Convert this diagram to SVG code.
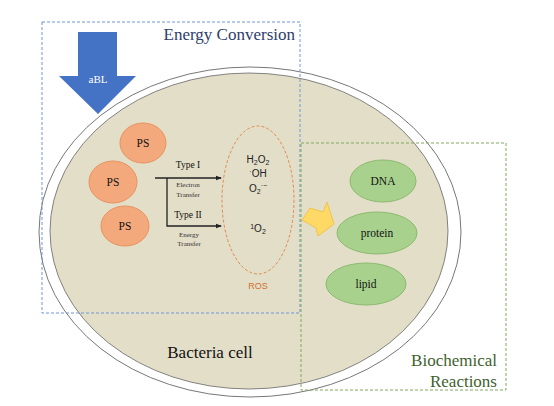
<svg xmlns="http://www.w3.org/2000/svg" width="554" height="406" viewBox="0 0 554 406">
<style>
.serif{font-family:"Liberation Serif","Tinos","Times New Roman","DejaVu Serif",serif}
.sans{font-family:"Liberation Sans",Arial,sans-serif}
.ps{fill:#F4A97D;stroke:#E6935F;stroke-width:1}
.bio{fill:#A9D18E;stroke:#8CBA6E;stroke-width:1}
.lbl{font-size:11.5px;fill:#111;text-anchor:middle}
.small{font-size:7px;fill:#333;text-anchor:middle}
.type{font-size:9.5px;fill:#111;text-anchor:middle}
.chem{font-size:10px;fill:#222;text-anchor:middle}
.line{stroke:#222;stroke-width:1.3;fill:none}
</style>
<defs>
<marker id="ah" markerWidth="6" markerHeight="6" refX="5" refY="3" orient="auto" markerUnits="userSpaceOnUse">
<path d="M0,0.8 L6,3 L0,5.2 z" fill="#222"/>
</marker>
</defs>
<rect width="554" height="406" fill="#fff"/>
<g id="cell">
<ellipse cx="250" cy="232" rx="211" ry="165" fill="#fff" stroke="#777" stroke-width="1"/>
<ellipse cx="249" cy="231" rx="199" ry="158" fill="#E3DEC8" stroke="#666" stroke-width="0.8"/>
<text class="serif" x="210" y="358" font-size="17" fill="#111" text-anchor="middle">Bacteria cell</text>
</g>
<g id="energy-conversion">
<rect x="42" y="22" width="258" height="291" fill="none" stroke="#6F96D8" stroke-width="1" stroke-dasharray="3,2"/>
<text class="serif" x="295" y="40" font-size="17" fill="#2F3E6B" text-anchor="end">Energy Conversion</text>
</g>
<g id="biochemical-reactions">
<rect x="301" y="143" width="205" height="247" fill="none" stroke="#7FA85F" stroke-width="1" stroke-dasharray="3,2"/>
<text class="serif" x="497" y="366" font-size="17" fill="#3F5F2F" text-anchor="end">Biochemical</text>
<text class="serif" x="497" y="387" font-size="17" fill="#3F5F2F" text-anchor="end">Reactions</text>
</g>
<g id="aBL">
<polygon points="78,32 117,32 117,76 136,76 98,114 59,76 78,76" fill="#4472C4"/>
<text class="serif" x="98" y="83" font-size="11" fill="#fff" text-anchor="middle">aBL</text>
</g>
<g id="PS1"><ellipse class="ps" cx="143" cy="143" rx="23" ry="20"/><text class="serif lbl" x="143" y="147">PS</text></g>
<g id="PS2"><ellipse class="ps" cx="113" cy="182" rx="24" ry="21"/><text class="serif lbl" x="113" y="186">PS</text></g>
<g id="PS3"><ellipse class="ps" cx="125" cy="226" rx="24" ry="20"/><text class="serif lbl" x="125" y="230">PS</text></g>
<g id="connectors">
<line class="line" x1="155" y1="178" x2="221" y2="178" marker-end="url(#ah)"/>
<polyline class="line" points="167,178 167,226 221,226" marker-end="url(#ah)"/>
<text class="serif type" x="188" y="168">Type I</text>
<text class="serif small" x="188" y="187">Electron</text>
<text class="serif small" x="188" y="197">Transfer</text>
<text class="serif type" x="188" y="218">Type II</text>
<text class="serif small" x="189" y="237">Energy</text>
<text class="serif small" x="189" y="246">Transfer</text>
</g>
<g id="ROS">
<ellipse cx="258" cy="200" rx="36" ry="74" fill="none" stroke="#E08A4F" stroke-width="1" stroke-dasharray="3,2"/>
<text class="sans chem" x="258" y="163">H<tspan font-size="7" dy="2">2</tspan><tspan dy="-2">O</tspan><tspan font-size="7" dy="2">2</tspan></text>
<text class="sans chem" x="258" y="177"><tspan font-size="7" dy="-3">·</tspan><tspan dy="3">OH</tspan></text>
<text class="sans chem" x="258" y="192">O<tspan font-size="7" dy="2">2</tspan><tspan font-size="7" dy="-6">·−</tspan></text>
<text class="sans chem" x="258" y="232"><tspan font-size="7" dy="-3">1</tspan><tspan dy="3">O</tspan><tspan font-size="7" dy="2">2</tspan></text>
<text class="sans" x="258" y="289" font-size="9" fill="#D0702F" text-anchor="middle">ROS</text>
</g>
<g id="yellow-arrow">
<polygon points="302,220 310,208 323,212 327,202 334,224 318,236 316,228" fill="#FFD966" stroke="#F0BE3A" stroke-width="0.8"/>
</g>
<g id="DNA"><ellipse class="bio" cx="383" cy="181" rx="33" ry="21"/><text class="serif lbl" x="383" y="185">DNA</text></g>
<g id="protein"><ellipse class="bio" cx="377" cy="233" rx="40" ry="21"/><text class="serif lbl" x="377" y="237">protein</text></g>
<g id="lipid"><ellipse class="bio" cx="366" cy="284" rx="40" ry="21"/><text class="serif lbl" x="366" y="288">lipid</text></g>
</svg>
